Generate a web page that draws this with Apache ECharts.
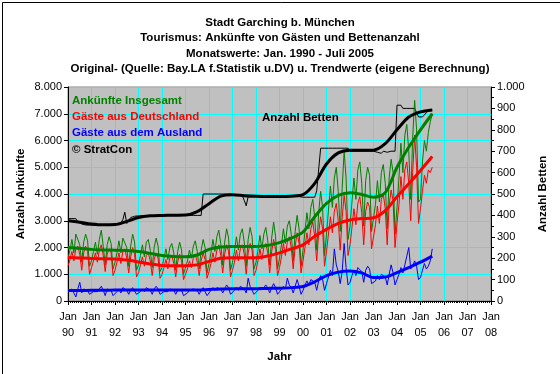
<!DOCTYPE html>
<html><head><meta charset="utf-8">
<script src="https://cdn.jsdelivr.net/npm/echarts@6/dist/echarts.min.js"></script>
<style>html,body{margin:0;padding:0;background:#fff}#c{width:560px;height:374px}</style>
</head><body><div id="c"></div>
<script>
// ---- DATA (monthly values Jan 1990 - Jul 2005) ----
const firstPeriod = '1990-01';
const yearTickLabels = ['90','91','92','93','94','95','96','97','98','99','00','01','02','03','04','05','06','07','08'];

const arrivalsTotal = [
 1600,1900,2300,1800,2500,2550,2100,1450,2200,2500,2250,1300,
 1500,1850,2200,1750,2300,2650,2050,1350,2100,2400,2150,1200,
 1450,1800,2250,1800,2350,2400,2000,1300,2050,2500,2200,1150,
 1350,1700,2100,1650,2200,2300,1900,1250,2000,2350,2050,1100,
 1250,1600,1950,1550,2000,2150,1800,1150,1850,2200,1900,1000,
 950,1500,1900,1600,2050,2250,1850,1200,1900,2300,2000,1050,
 1400,1800,2300,1850,2400,2650,2150,1350,2200,2700,2350,1150,
 1450,1850,2400,1900,2500,2700,2200,1300,2300,2750,2400,1200,
 1450,1900,2450,1950,2500,2750,2250,1350,2350,2950,2400,1200,
 1600,2100,2700,2150,2800,3000,2500,1500,2600,3200,2700,1300,
 1900,2600,3300,2700,3500,3800,3100,1900,3300,4100,3500,1700,
 2500,3400,4300,3500,4600,5000,4100,2600,4200,5600,4600,2300,
 2800,3700,4600,3800,4900,5200,4400,2800,4500,5000,4700,2600,
 2600,3600,4500,3700,4800,5100,4400,2700,4600,5300,4800,2500,
 3500,4600,5900,4800,6200,6600,5600,3800,6100,7500,6400,3700,
 3800,5200,6000,5600,6300,6700,7000
];
const arrivalsGermany = [
 1300,1550,1850,1500,1950,2050,1750,1150,1800,2050,1850,1000,
 1250,1500,1800,1450,1900,2100,1700,1100,1750,1950,1800,950,
 1150,1450,1800,1400,1850,1950,1600,1050,1650,2000,1750,900,
 1050,1350,1650,1300,1700,1800,1500,950,1550,1800,1600,850,
 1000,1250,1550,1200,1600,1700,1400,900,1450,1750,1500,800,
 750,1200,1500,1250,1600,1750,1450,950,1500,1800,1550,850,
 1100,1400,1800,1450,1900,2100,1700,1050,1750,2100,1850,900,
 1150,1450,1900,1500,1950,2100,1750,1000,1800,2150,1900,950,
 1150,1500,1950,1550,2000,2150,1800,1050,1850,2300,1900,950,
 1250,1650,2150,1700,2200,2400,2000,1200,2050,2550,2150,1050,
 1500,2000,2550,2100,2700,2950,2400,1500,2550,3150,2700,1300,
 1850,2500,3150,2550,3350,3650,3000,1900,3100,3950,3350,1700,
 2100,2750,3450,2850,3650,3900,3300,2100,3350,3700,3500,1950,
 2000,2850,3550,2900,3800,4000,3450,2100,3600,4150,3750,2000,
 2900,3600,4650,3800,4900,5200,4400,3000,4800,6200,5000,2900,
 3450,4100,4700,4400,4900,4800,5000
];
const arrivalsAbroad = [
 350,300,450,400,150,450,700,300,450,500,400,250,
 300,350,400,350,450,550,400,200,450,500,400,200,
 250,350,450,300,500,450,400,250,400,500,450,250,
 300,350,450,350,500,500,400,250,450,550,450,250,
 250,350,400,350,450,450,400,250,400,450,400,200,
 200,300,400,350,450,500,400,250,400,500,450,200,
 300,400,500,400,500,550,450,300,450,600,500,250,
 300,400,500,400,550,600,450,300,850,550,500,250,
 300,400,500,450,500,600,500,300,500,650,500,250,
 350,450,550,450,850,600,500,300,550,800,550,250,
 400,600,750,600,800,850,700,400,750,950,800,400,
 650,900,1150,950,1950,1350,1100,650,1100,2150,1250,600,
 700,950,1150,950,1250,1300,1100,700,1150,1300,1200,650,
 580,750,950,800,1000,1050,900,600,1000,1350,1050,600,
 800,1000,1250,1050,1350,1400,2000,1200,1300,1500,1300,800,
 880,1150,1400,1200,1300,1500,1950
];
const beds = [
 385,385,385,385,385,370,362,360,355,355,355,355,
 354,354,354,354,354,354,354,354,354,354,354,354,
 356,358,362,365,380,415,362,378,390,395,396,397,
 398,398,398,398,398,398,398,398,398,398,398,398,
 399,399,399,399,399,399,399,399,399,399,399,399,
 400,400,400,400,400,400,400,400,400,500,500,500,
 500,500,500,500,500,500,500,500,500,500,500,500,
 497,496,495,494,493,492,470,445,488,490,490,490,
 490,490,490,490,490,490,490,490,490,490,490,490,
 488,488,488,488,488,488,488,488,488,488,488,488,
 485,485,485,485,485,485,485,515,515,714,714,714,
 714,714,714,714,714,714,714,714,714,714,714,714,
 700,700,700,700,700,700,700,700,700,700,700,700,
 700,700,695,700,690,700,705,695,690,700,705,700,
 915,915,915,900,900,900,900,900,900,900,880,860,
 860,860,865,880,890,893,893
];

// ---- trend values (half-yearly readings) ----
const trendPeriods = ['1990-01','1990-07','1991-01','1991-07','1992-01','1992-07','1993-01','1993-07',
 '1994-01','1994-07','1995-01','1995-07','1996-01','1996-07','1997-01','1997-07','1998-01','1998-07',
 '1999-01','1999-07','2000-01','2000-07','2001-01','2001-07','2002-01','2002-07','2003-01','2003-07',
 '2004-01','2004-07','2005-01','2005-07'];
const trendTotal = [2000,1970,1930,1910,1900,1890,1850,1780,1700,1660,1650,1720,1930,2020,2040,2040,
 2040,2080,2180,2350,2580,3150,3650,3950,4050,3980,3880,4050,5000,5750,6400,7000];
const trendGermany = [1630,1610,1590,1580,1570,1530,1460,1380,1330,1320,1320,1350,1480,1600,1620,1620,
 1620,1680,1800,1950,2100,2420,2680,2900,3030,3080,3110,3380,3900,4380,4880,5400];
const trendAbroad = [390,390,400,400,410,410,410,410,410,410,410,410,430,450,460,460,
 460,470,480,500,540,720,950,1080,1120,1050,880,900,1060,1250,1450,1680];
const trendBeds = [375,368,360,356,357,372,390,398,400,401,402,418,455,490,497,492,
 489,488,488,490,497,550,640,692,705,704,705,735,800,860,884,893];

const titleLines = ['Stadt Garching b. München','Tourismus: Ankünfte von Gästen und Bettenanzahl',
 'Monatswerte: Jan. 1990 - Juli 2005','Original- (Quelle: Bay.LA f.Statistik u.DV) u. Trendwerte (eigene Berechnung)'];

// ---- helpers ----
function periodIndex(p){ const [y,m] = p.split('-').map(Number); return (y-1990)*12 + (m-1); }
const base = periodIndex(firstPeriod);
const monthly = arr => arr.map((v,i)=>[base+i, v]);
const trend = arr => arr.map((v,i)=>[periodIndex(trendPeriods[i]), v]);
const fmt = v => String(v).replace(/\B(?=(\d{3})+(?!\d))/g, '.');

const FONT = '"Liberation Sans", Arial, sans-serif';
const BOLD = 'bold 11.5px ' + FONT;
const chart = echarts.init(document.getElementById('c'), null, {renderer:'canvas'});
chart.setOption({
  animation:false,
  backgroundColor:'#ffffff',
  textStyle:{fontFamily:FONT},
  grid:{left:68, right:69, top:87, bottom:73, show:true, backgroundColor:'#c0c0c0', borderColor:'#808080', borderWidth:1},
  xAxis:{
    type:'value', min:0, max:216, interval:12,
    name:'Jahr', nameLocation:'middle', nameGap:50,
    nameTextStyle:{fontSize:11.5, fontWeight:'bold', color:'#000', fontFamily:FONT},
    axisLine:{lineStyle:{color:'#000', width:1}},
    axisTick:{length:4, lineStyle:{color:'#000'}},
    minorTick:{show:true, splitNumber:12, length:2, lineStyle:{color:'#000'}},
    splitLine:{show:true, lineStyle:{color:'#00ffff', width:1}},
    axisLabel:{fontSize:11, color:'#000', lineHeight:16, margin:8, fontFamily:FONT,
      formatter:v=>'Jan\n'+yearTickLabels[Math.round(v/12)]}
  },
  yAxis:[{
    type:'value', min:0, max:8000, interval:1000,
    name:'Anzahl Ankünfte', nameLocation:'middle', nameGap:41, nameMoveOverlap:false,
    nameTextStyle:{fontSize:11.5, fontWeight:'bold', color:'#000', fontFamily:FONT},
    axisLine:{show:true, lineStyle:{color:'#000'}},
    axisTick:{show:true, length:4, lineStyle:{color:'#000'}},
    splitLine:{show:true, lineStyle:{color:'#00ffff', width:1}},
    axisLabel:{fontSize:11, color:'#000', margin:6, formatter:fmt, fontFamily:FONT, showMaxLabel:true}
  },{
    type:'value', min:0, max:1000, interval:100, position:'right',
    name:'Anzahl Betten', nameLocation:'middle', nameGap:46, nameRotate:90,
    nameTextStyle:{fontSize:11.5, fontWeight:'bold', color:'#000', fontFamily:FONT},
    axisLine:{show:true, lineStyle:{color:'#000'}},
    axisTick:{show:true, length:4, lineStyle:{color:'#000'}},
    minorTick:{show:true, splitNumber:2, length:3, lineStyle:{color:'#000'}},
    splitLine:{show:false},
    axisLabel:{fontSize:11, color:'#000', margin:6, formatter:fmt, fontFamily:FONT, showMaxLabel:true, showMinLabel:true}
  }],
  series:[
    {type:'line', yAxisIndex:1, data:monthly(beds), symbol:'none', lineStyle:{color:'#000', width:1}, z:2},
    {type:'line', data:monthly(arrivalsTotal), symbol:'none', lineStyle:{color:'#008000', width:1}, z:3},
    {type:'line', data:monthly(arrivalsGermany), symbol:'none', lineStyle:{color:'#ff0000', width:1}, z:3},
    {type:'line', data:monthly(arrivalsAbroad), symbol:'none', lineStyle:{color:'#0000ff', width:1}, z:3},
    {type:'line', yAxisIndex:1, data:trend(trendBeds), smooth:0.3, symbol:'none', lineStyle:{color:'#000', width:3}, z:4},
    {type:'line', data:trend(trendTotal), smooth:0.3, symbol:'none', lineStyle:{color:'#008000', width:3}, z:4},
    {type:'line', data:trend(trendGermany), smooth:0.3, symbol:'none', lineStyle:{color:'#ff0000', width:3}, z:4},
    {type:'line', data:trend(trendAbroad), smooth:0.3, symbol:'none', lineStyle:{color:'#0000ff', width:3}, z:4}
  ],
  graphic:[
    {type:'text', x:280, y:15, z:10, style:{text:titleLines.join('\n'), fill:'#000', font:BOLD, textAlign:'center', lineHeight:15.5}},
    {type:'text', left:72, top:95, z:10, style:{text:'Ankünfte Insgesamt', fill:'#008000', font:BOLD}},
    {type:'text', left:72, top:111, z:10, style:{text:'Gäste aus Deutschland', fill:'#ff0000', font:BOLD}},
    {type:'text', left:72, top:127, z:10, style:{text:'Gäste aus dem Ausland', fill:'#0000ff', font:BOLD}},
    {type:'text', left:72, top:144, z:10, style:{text:'© StratCon', fill:'#000', font:BOLD}},
    {type:'text', left:262, top:112, z:10, style:{text:'Anzahl Betten', fill:'#000', font:BOLD}},
    {type:'rect', left:0, top:0, z:20, silent:true, shape:{x:0.5, y:0.5, width:559, height:373}, style:{fill:'none', stroke:'#000', lineWidth:1}}
  ]
});
</script></body></html>
